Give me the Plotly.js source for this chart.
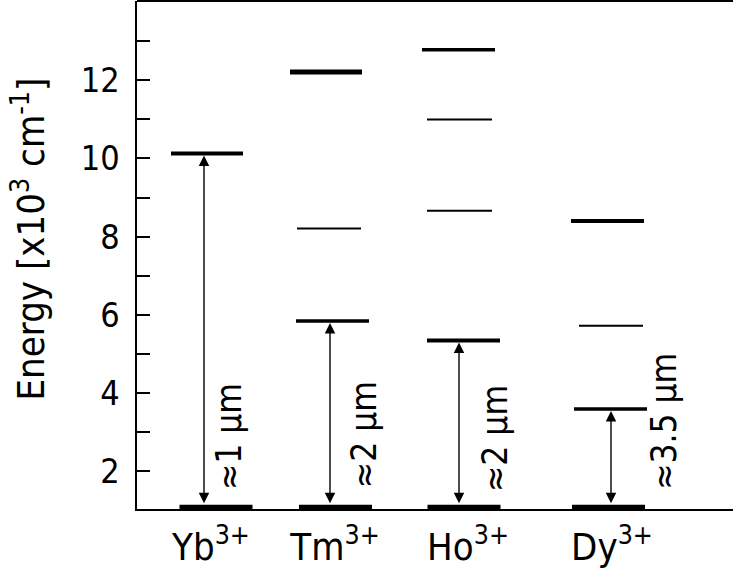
<!DOCTYPE html>
<html>
<head>
<meta charset="utf-8">
<script src="https://cdn.plot.ly/plotly-3.0.1.min.js"></script>
<style>
html,body{margin:0;padding:0;overflow:hidden;background:#fff;}
#chart{width:743px;height:575px;}
</style>
</head>
<body>
<div id="chart"></div>
<script>
// ---------------- data (energies in 10^3 cm^-1) ----------------
const ions = ['Yb<sup>3+</sup>', 'Tm<sup>3+</sup>', 'Ho<sup>3+</sup>', 'Dy<sup>3+</sup>'];
const groundEnergy = [1.05, 1.05, 1.05, 1.05];
const ybLevels = [10.13];
const tmLevels = [12.21, 8.21, 5.84];
const hoLevels = [12.78, 11.0, 8.66, 5.34];
const dyLevels = [8.40, 5.72, 3.59];
const laserUpper = [10.13, 5.84, 5.34, 3.59];
const laserLabels = ['\u22481 \u00b5m', '\u22482 \u00b5m', '\u22482 \u00b5m', '\u22483.5 \u00b5m'];
const yTickVals = [2, 3, 4, 5, 6, 7, 8, 9, 10, 11, 12, 13];
const yTickText = ['2', '', '4', '', '6', '', '8', '', '10', '', '12', ''];
const yTitle = 'Energy [x10<sup>3</sup> cm<sup>-1</sup>]';

// ---------------- layout / style (not data) ----------------
const levelSets = [ybLevels, tmLevels, hoLevels, dyLevels];
const colX = [79, 198.5, 327, 471.5];          // column centres in x-axis units
const labelX = [74, 198, 331, 475];            // ion label centres
const arrowDx = [-12, -5.5, -5, 2.5];
const textDx = [13, 28.5, 31, 55.5];
const textY = [2.87, 2.92, 2.82, 3.26];        // rotated label centres (axis units)
// per-level style: line width, centre shift, half width
const levelStyle = [
  [{w: 4, dx: -9, hw: 36}],
  [{w: 5, dx: -9.5, hw: 36}, {w: 2, dx: -6.5, hw: 32}, {w: 3.5, dx: -3, hw: 36.5}],
  [{w: 3.5, dx: -5.5, hw: 36.5}, {w: 2, dx: -4.5, hw: 32.5}, {w: 2, dx: -4.5, hw: 32.5}, {w: 4, dx: -0.5, hw: 36.5}],
  [{w: 4, dx: -1, hw: 36.5}, {w: 2, dx: 2.5, hw: 32}, {w: 3.5, dx: 2, hw: 36.5}]
];
const groundWidth = 7, groundHalf = 36.5;
const FONT = '"DejaVu Sans Condensed", "DejaVu Sans", sans-serif';

const traces = [];
levelSets.forEach((levels, i) => {
  levels.forEach((E, j) => {
    const s = levelStyle[i][j];
    const c = colX[i] + s.dx;
    traces.push({x: [c - s.hw, c + s.hw], y: [E, E], mode: 'lines', type: 'scatter',
      line: {color: '#000', width: s.w}, hoverinfo: 'skip', showlegend: false});
  });
  traces.push({x: [colX[i] - groundHalf, colX[i] + groundHalf], y: [groundEnergy[i], groundEnergy[i]],
    mode: 'lines', type: 'scatter', line: {color: '#000', width: groundWidth}, hoverinfo: 'skip', showlegend: false});
});

const annotations = [];
ions.forEach((_, i) => {
  const ax = colX[i] + arrowDx[i];
  annotations.push({x: ax, y: laserUpper[i], ax: ax, ay: groundEnergy[i], xref: 'x', yref: 'y', axref: 'x', ayref: 'y',
    text: '', showarrow: true, arrowside: 'end+start', arrowhead: 2, startarrowhead: 2,
    arrowsize: 1.5, startarrowsize: 1.5, arrowwidth: 1.4, arrowcolor: '#000',
    standoff: 2, startstandoff: 3.5});
  annotations.push({x: colX[i] + textDx[i], y: textY[i], xref: 'x', yref: 'y', text: laserLabels[i],
    textangle: -90, showarrow: false, xanchor: 'center', yanchor: 'middle',
    font: {family: FONT, size: 35, color: '#000'}});
});
annotations.push({xref: 'paper', yref: 'paper', x: -0.179, y: 0.5315, text: yTitle, textangle: -90,
  showarrow: false, xanchor: 'center', yanchor: 'middle', font: {family: FONT, size: 38, color: '#000'}});

const layout = {
  width: 743, height: 575,
  margin: {l: 137, r: 0, t: 1, b: 66},
  paper_bgcolor: '#fff', plot_bgcolor: '#fff',
  showlegend: false,
  xaxis: {range: [0, 606], showgrid: false, zeroline: false, showline: true, linecolor: '#000', linewidth: 1.5,
    tickmode: 'array', tickvals: labelX, ticktext: ions, ticks: '', ticklabelstandoff: 4,
    tickfont: {family: FONT, size: 38, color: '#000'}},
  yaxis: {range: [1.03, 14.03], showgrid: false, zeroline: false, showline: true, linecolor: '#000', linewidth: 2.5,
    tickmode: 'array', tickvals: yTickVals, ticktext: yTickText, ticks: 'inside', ticklen: 13, tickwidth: 2,
    tickcolor: '#000', ticklabelstandoff: 8,
    tickfont: {family: FONT, size: 34, color: '#000'}},
  shapes: [{type: 'line', xref: 'paper', yref: 'paper', x0: 0, x1: 1, y0: 1, y1: 1, line: {color: '#000', width: 2}}],
  annotations: annotations
};

Plotly.newPlot('chart', traces, layout, {displayModeBar: false, staticPlot: true});
</script>
</body>
</html>
